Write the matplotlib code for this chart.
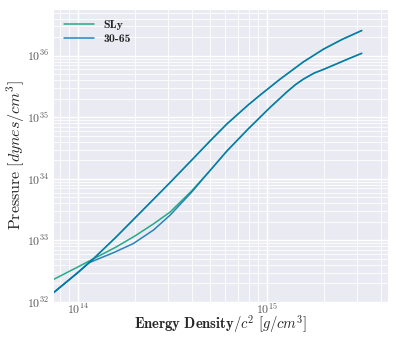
import numpy as np
import matplotlib
matplotlib.use('Agg')
import matplotlib.pyplot as plt
import seaborn as sns

# values (log10 of energy density and pressure)
# SLy, smooth curve
sly_logrho_a = [13.80, 13.873, 14.0, 14.081, 14.2, 14.3, 14.4, 14.487, 14.6, 14.7, 14.787, 14.9, 14.963,
                15.016, 15.069, 15.104, 15.15, 15.192, 15.25, 15.3, 15.369, 15.43, 15.501]
sly_logp_a = [32.26, 32.37, 32.57, 32.70, 32.89, 33.07, 33.27, 33.46, 33.80, 34.14, 34.45, 34.81, 35.00,
              35.16, 35.31, 35.41, 35.53, 35.62, 35.72, 35.78, 35.87, 35.95, 36.04]
# SLy, steep curve
sly_logrho_b = [13.80, 13.873, 14.0, 14.081, 14.2, 14.3, 14.4, 14.487, 14.6, 14.7, 14.787, 14.9, 14.963,
                15.069, 15.192, 15.3, 15.4, 15.501]
sly_logp_b = [31.96, 32.157, 32.48, 32.70, 33.05, 33.36, 33.67, 33.94, 34.30, 34.62, 34.89, 35.20, 35.36,
              35.62, 35.90, 36.11, 36.27, 36.41]
# 30-65, with the kink near 1.15e14
pp_logrho_a = [13.80, 13.873, 14.0, 14.06, 14.187, 14.293, 14.4, 14.487, 14.6, 14.7, 14.787, 14.9, 14.963,
               15.016, 15.069, 15.104, 15.15, 15.192, 15.25, 15.3, 15.369, 15.43, 15.501]
pp_logp_a = [31.96, 32.157, 32.48, 32.64, 32.80, 32.95, 33.17, 33.41, 33.78, 34.14, 34.45, 34.81, 35.00,
             35.16, 35.31, 35.41, 35.53, 35.62, 35.72, 35.78, 35.87, 35.95, 36.04]
pp_logrho_b = list(sly_logrho_b)
pp_logp_b = list(sly_logp_b)

xlim = (10**13.868, 10**15.64)
ylim = (1e32, 10**36.76)

sns.set_style('darkgrid')
plt.rcParams['font.family'] = 'serif'
plt.rcParams['font.serif'] = ['cmr10']
plt.rcParams['mathtext.fontset'] = 'cm'
plt.rcParams['axes.unicode_minus'] = False
plt.rcParams['axes.formatter.use_mathtext'] = True

pal = sns.color_palette('colorblind')
c_sly = pal[2]
c_pp = pal[0]

fig = plt.figure(figsize=(3.96, 3.37), dpi=100)
ax = fig.add_axes([53/396, 1 - 302/337, (388 - 53)/396, (302 - 9)/337])

ax.plot(10**np.array(sly_logrho_a), 10**np.array(sly_logp_a), color=c_sly, lw=1.1, alpha=0.85, label='SLy')
ax.plot(10**np.array(sly_logrho_b), 10**np.array(sly_logp_b), color=c_sly, lw=1.1, alpha=0.85)
ax.plot(10**np.array(pp_logrho_a), 10**np.array(pp_logp_a), color=c_pp, lw=1.1, alpha=0.85, label='30-65')
ax.plot(10**np.array(pp_logrho_b), 10**np.array(pp_logp_b), color=c_pp, lw=1.1, alpha=0.85)

ax.set_xscale('log')
ax.set_yscale('log')
ax.set_xlim(xlim)
ax.set_ylim(ylim)
ax.grid(which='major', color='white', lw=1.0)
ax.grid(which='minor', color='white', lw=0.6)
ax.tick_params(which='both', length=0)
ax.tick_params(labelsize=8.5, colors='.35', pad=2.5)
ax.tick_params(axis='x', pad=0)

ax.set_xlabel(r'$\mathbf{Energy\ Density}/c^2\ [g/cm^3]$', fontsize=10.5, va='bottom')
ax.set_ylabel(r'$\mathrm{Pressure}\ [dynes/cm^3]$', fontsize=11.5, va='center')
ax.xaxis.set_label_coords(0.5, -0.112)
ax.yaxis.set_label_coords(-0.11, 0.5)

leg = ax.legend(loc='upper left', frameon=False, prop={'family': 'cmb10', 'size': 8.5},
                labelspacing=0.35, handlelength=2.6, borderaxespad=0.5)

fig.savefig('out.png', dpi=100)
